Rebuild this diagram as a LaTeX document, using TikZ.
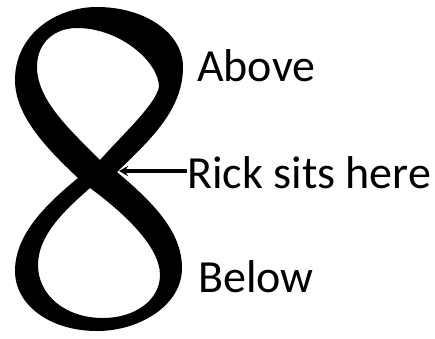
\documentclass[tikz,border=0pt]{standalone}
\usepackage{fontspec}
\setmainfont{Carlito}
\usetikzlibrary{arrows.meta}
\begin{document}
\begin{tikzpicture}[x=1pt,y=-1pt,
  lbl/.style={anchor=base west,inner sep=0pt,font=\fontsize{46}{46}\selectfont},
  ptr/.style={line width=3.2pt,-{Stealth[length=9pt,width=10pt]}}]
\useasboundingbox (0,0) rectangle (435,338);
% figure eight
\fill[black,even odd rule]
  (78,178) .. controls (45,147) and (15,115) .. (15,80)
  .. controls (15,35) and (55,7) .. (97,7)
  .. controls (145,7) and (183,33) .. (183,67)
  .. controls (183,110) and (150,140) .. (117,172)
  .. controls (150,200) and (182,230) .. (182,268)
  .. controls (182,305) and (140,331) .. (97,331)
  .. controls (50,331) and (15,305) .. (15,271)
  .. controls (15,235) and (45,205) .. (78,178) -- cycle
  (100,160) .. controls (70,130) and (37,100) .. (37,67)
  .. controls (37,42) and (55,28) .. (77,28)
  .. controls (120,28) and (159,62) .. (159,87)
  .. controls (155,105) and (125,132) .. (100,160) -- cycle
  (90,188) .. controls (120,210) and (160,245) .. (160,275)
  .. controls (160,300) and (135,318) .. (103,318)
  .. controls (65,318) and (38,295) .. (38,265)
  .. controls (38,235) and (65,210) .. (90,188) -- cycle;
\node[lbl] (above) at (197,81) {Above};
\node[lbl] (rick) at (187,188) {Rick sits here};
\node[lbl] (below) at (198,292) {Below};
\coordinate (cross) at (119,171);
\draw[ptr] (rick.west |- cross) -- (cross);
\end{tikzpicture}
\end{document}
